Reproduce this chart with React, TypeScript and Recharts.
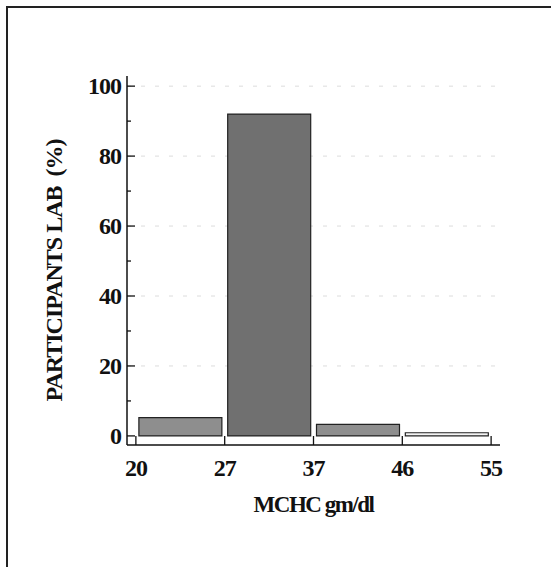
import { BarChart, Bar, XAxis, YAxis, Cell, CartesianGrid, Label } from 'recharts';

// bin edges along the x axis (MCHC gm/dl) and percentage of labs per bin
const BIN_EDGES = [20, 27, 37, 46, 55];
const PERCENT = [5.2, 92, 3.3, 0.9];
const Y_TICKS = [0, 10, 20, 30, 40, 50, 60, 70, 80, 90, 100];
const GRID_VALUES = [20, 40, 60, 80, 100];
const Y_DOMAIN = [-2.6, 102.9];

const BAR_FILLS = ['#8e8e8e', '#707070', '#8e8e8e', '#f4f4f4'];
const FONT = '"Liberation Serif", "Times New Roman", serif';

const data = PERCENT.map((pct, i) => ({
  pos: i + 0.5,
  range: `${BIN_EDGES[i]}-${BIN_EDGES[i + 1]}`,
  pct,
}));

const gridRows = ({ yAxis, offset }: any) =>
  GRID_VALUES.map((v) =>
    yAxis && typeof yAxis.scale === 'function'
      ? yAxis.scale(v)
      : offset.top + ((Y_DOMAIN[1] - v) / (Y_DOMAIN[1] - Y_DOMAIN[0])) * offset.height
  );

const YTick = (props: any) => {
  const { x, y, payload } = props;
  const v = payload.value;
  const major = v % 20 === 0;
  return (
    <g>
      <line x1={x} x2={x + (major ? 8 : 4)} y1={y} y2={y} stroke="#111" strokeWidth={1.3} />
      {major && (
        <text
          x={x - 6}
          y={y}
          dy={8}
          textAnchor="end"
          fontFamily={FONT}
          fontWeight={700}
          fontSize={24}
          letterSpacing={-1}
          fill="#111"
        >
          {v}
        </text>
      )}
    </g>
  );
};

const XTick = (props: any) => {
  const { x, y, payload } = props;
  const label = BIN_EDGES[payload.value];
  return (
    <g>
      <line x1={x} x2={x} y1={y} y2={y - 9} stroke="#111" strokeWidth={1.3} />
      <text
        x={x}
        y={y}
        dy={31}
        textAnchor="middle"
        fontFamily={FONT}
        fontWeight={700}
        fontSize={24}
        letterSpacing={-1}
        fill="#111"
      >
        {label}
      </text>
    </g>
  );
};

const YTitle = (props: any) => {
  const { viewBox } = props;
  const cx = viewBox.x + viewBox.width - 73;
  const cy = viewBox.y + viewBox.height / 2 + 10;
  return (
    <text
      x={cx}
      y={cy}
      transform={`rotate(-90, ${cx}, ${cy})`}
      textAnchor="middle"
      dominantBaseline="central"
      fontFamily={FONT}
      fontWeight={700}
      fontSize={24}
      letterSpacing={-1}
      fill="#111"
      style={{ whiteSpace: 'pre' }}
    >
      PARTICIPANTS LAB  (%)
    </text>
  );
};

const XTitle = (props: any) => {
  const { viewBox } = props;
  const cx = viewBox.x + viewBox.width / 2;
  return (
    <text
      x={cx}
      y={viewBox.y + 67}
      textAnchor="middle"
      fontFamily={FONT}
      fontWeight={700}
      fontSize={23}
      letterSpacing={-1.5}
      fill="#111"
    >
      MCHC gm/dl
    </text>
  );
};

export default function App() {
  return (
    <div style={{ position: 'absolute', left: 0, top: 0, width: 551, height: 567, background: '#fff', overflow: 'hidden' }}>
      <div
        style={{
          position: 'absolute',
          left: 6,
          top: 6,
          width: 560,
          height: 600,
          borderTop: '2px solid #222',
          borderLeft: '2px solid #222',
        }}
      />
      <BarChart
        width={551}
        height={567}
        data={data}
        margin={{ top: 76, right: 51, bottom: 42, left: 67 }}
        style={{ position: 'absolute', left: 0, top: 0 }}
      >
        <CartesianGrid
          vertical={false}
          stroke="#dcdcdc"
          strokeDasharray="4 10"
          horizontalCoordinatesGenerator={gridRows}
        />
        <XAxis
          dataKey="pos"
          type="number"
          domain={[-0.1, 4.1]}
          ticks={[0, 1, 2, 3, 4]}
          height={80}
          tickSize={0}
          tickMargin={0}
          tickLine={false}
          tick={<XTick />}
          axisLine={{ stroke: '#111', strokeWidth: 1.5 }}
          interval={0}
        >
          <Label content={<XTitle />} />
        </XAxis>
        <YAxis
          type="number"
          domain={Y_DOMAIN}
          ticks={Y_TICKS}
          width={60}
          tickSize={0}
          tickMargin={0}
          tickLine={false}
          tick={<YTick />}
          axisLine={{ stroke: '#111', strokeWidth: 1.5 }}
          interval={0}
        >
          <Label content={<YTitle />} />
        </YAxis>
        <Bar dataKey="pct" barSize={83} stroke="#222" strokeWidth={1.2} isAnimationActive={false}>
          {data.map((d, i) => (
            <Cell key={d.range} fill={BAR_FILLS[i]} />
          ))}
        </Bar>
      </BarChart>
    </div>
  );
}
